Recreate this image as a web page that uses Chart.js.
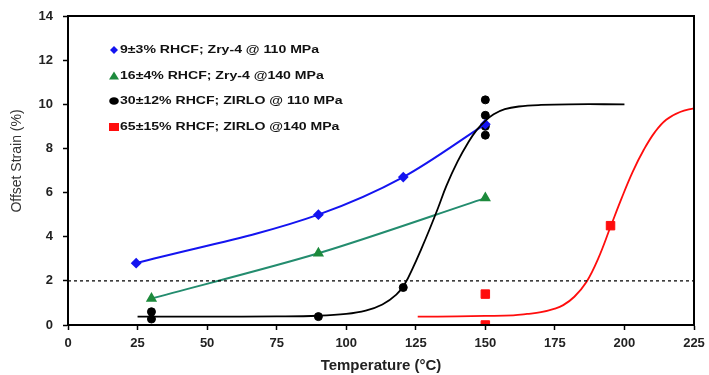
<!DOCTYPE html>
<html><head><meta charset="utf-8">
<script src="https://cdn.jsdelivr.net/npm/chart.js@4/dist/chart.umd.min.js"></script>
<style>html,body{margin:0;padding:0;background:#fff}#wrap{width:709px;height:375px;position:relative}</style>
</head><body><div id="wrap"><canvas id="c" width="709" height="375"></canvas></div>
<script>
// ---- data ----
const seriesNames = [
  "9\u00b13% RHCF; Zry-4 @ 110 MPa",
  "16\u00b14% RHCF; Zry-4 @140 MPa",
  "30\u00b112% RHCF; ZIRLO @ 110 MPa",
  "65\u00b115% RHCF; ZIRLO @140 MPa"
];
const yTitle = "Offset Strain (%)";
const xTitle = "Temperature (\u00b0C)";
const blueX = [24.5, 90, 120.5, 150];
const blueY = [2.8, 5.0, 6.7, 9.1];
const greenX = [30, 90, 150];
const greenY = [1.2, 3.25, 5.75];
const blackX = [30, 30, 90, 120.5, 150, 150, 150, 150];
const blackY = [0.6, 0.27, 0.38, 1.7, 10.2, 9.5, 9.0, 8.6];
const redX = [150, 150, 195];
const redY = [1.4, 0.0, 4.5];
// fitted curves
const blackFitX = [25, 50, 75, 90, 100, 107, 113, 118, 121, 124, 127, 130, 133, 136, 140, 144, 147, 150, 153, 157, 162, 170, 180, 200];
const blackFitY = [0.38, 0.38, 0.39, 0.42, 0.5, 0.65, 0.93, 1.38, 1.85, 2.6, 3.45, 4.35, 5.3, 6.3, 7.4, 8.3, 8.85, 9.25, 9.55, 9.78, 9.9, 9.97, 10.0, 10.0];
const redFitX = [125.7, 140, 150, 160, 165, 170, 175, 178, 182, 186.4, 190.6, 195, 199, 203, 207, 211, 215, 220, 225];
const redFitY = [0.38, 0.39, 0.41, 0.44, 0.5, 0.58, 0.74, 0.9, 1.28, 1.96, 3.02, 4.45, 5.75, 6.95, 7.95, 8.75, 9.3, 9.65, 9.82];
const limitX = [0, 225];
const limitY = 2;
const xTicks = [0, 25, 50, 75, 100, 125, 150, 175, 200, 225];
const yTicks = [0, 2, 4, 6, 8, 10, 12, 14];

const pts = (xs, ys) => xs.map((x, i) => ({x, y: Array.isArray(ys) ? ys[i] : ys}));

const BLUE = '#1414f0', GREEN = '#1d8a3c', TEAL = '#238c6e', RED = '#ff0d0d', BLACK = '#000';
const FONT = '"Liberation Sans", Arial, sans-serif';

const legendPlugin = {
  id: 'legendInside',
  afterDraw(chart) {
    const ctx = chart.ctx;
    const rows = [50, 76, 101, 127];
    const mx = 114, tx = 120, stretch = 1.28;
    ctx.save();
    ctx.font = 'bold 11px ' + FONT;
    ctx.textBaseline = 'middle';
    ctx.fillStyle = '#111';
    rows.forEach((y, i) => {
      ctx.save();
      ctx.translate(tx, y);
      ctx.scale(stretch, 1);
      ctx.fillText(seriesNames[i], 0, 0);
      ctx.restore();
    });
    ctx.fillStyle = BLUE; ctx.beginPath();
    ctx.moveTo(mx, rows[0] - 4); ctx.lineTo(mx + 4, rows[0]); ctx.lineTo(mx, rows[0] + 4); ctx.lineTo(mx - 4, rows[0]); ctx.closePath(); ctx.fill();
    ctx.fillStyle = GREEN; ctx.beginPath();
    ctx.moveTo(mx, rows[1] - 4.5); ctx.lineTo(mx + 5, rows[1] + 3.5); ctx.lineTo(mx - 5, rows[1] + 3.5); ctx.closePath(); ctx.fill();
    ctx.fillStyle = BLACK; ctx.beginPath();
    ctx.ellipse(mx, rows[2], 4.8, 3.8, 0, 0, Math.PI * 2); ctx.fill();
    ctx.fillStyle = RED; ctx.fillRect(mx - 5, rows[3] - 4, 10, 8);
    // rotated y-axis title
    ctx.save();
    ctx.translate(17, 161);
    ctx.rotate(-Math.PI / 2);
    ctx.font = '14px ' + FONT;
    ctx.fillStyle = '#333';
    ctx.textAlign = 'center';
    ctx.fillText(yTitle, 0, 0);
    ctx.restore();
    ctx.restore();
  }
};
const framePlugin = {
  id: 'frame',
  afterDatasetsDraw(chart) {
    const a = chart.chartArea, ctx = chart.ctx;
    ctx.save();
    ctx.strokeStyle = '#000'; ctx.lineWidth = 2;
    ctx.strokeRect(a.left, a.top, a.right - a.left, a.bottom - a.top);
    ctx.restore();
  }
};

new Chart(document.getElementById('c'), {
  type: 'scatter',
  data: {
    datasets: [
      { label: 'limit', data: pts(limitX, limitY), showLine: true, borderColor: '#000', borderWidth: 1.2, borderDash: [3, 3], pointRadius: 0 },
      { label: 'blackFit', data: pts(blackFitX, blackFitY), showLine: true, borderColor: '#000', borderWidth: 1.8, tension: 0.4, pointRadius: 0 },
      { label: 'redFit', data: pts(redFitX, redFitY), showLine: true, borderColor: RED, borderWidth: 1.8, tension: 0.4, pointRadius: 0 },
      { label: seriesNames[1], data: pts(greenX, greenY), showLine: true, borderColor: TEAL, borderWidth: 2, tension: 0.3, pointStyle: 'triangle', pointRadius: 4.5, pointBackgroundColor: GREEN, pointBorderColor: GREEN },
      { label: seriesNames[0], data: pts(blueX, blueY), showLine: true, borderColor: BLUE, borderWidth: 2, cubicInterpolationMode: 'monotone', pointStyle: 'rectRot', pointRadius: 4, pointBackgroundColor: BLUE, pointBorderColor: BLUE },
      { label: seriesNames[2], data: pts(blackX, blackY), showLine: false, pointStyle: 'circle', pointRadius: 4, pointBackgroundColor: BLACK, pointBorderColor: BLACK },
      { label: seriesNames[3], data: pts(redX, redY), showLine: false, pointStyle: 'rect', pointRadius: 6, pointBackgroundColor: RED, pointBorderColor: RED }
    ]
  },
  options: {
    responsive: false,
    animation: false,
    devicePixelRatio: 1,
    layout: { padding: { top: 16, right: 15, left: 0, bottom: 0 } },
    plugins: { legend: { display: false }, tooltip: { enabled: false } },
    scales: {
      x: {
        type: 'linear', min: 0, max: 225,
        afterBuildTicks(s) { s.ticks = xTicks.map(v => ({value: v})); },
        afterFit(s) { s.height = 50; s.paddingRight = 0; s.paddingLeft = 0; },
        grid: { drawOnChartArea: false, drawTicks: true, tickLength: 5, tickColor: '#000', tickWidth: 1.5 },
        border: { color: '#000', width: 2 },
        ticks: { color: '#222', font: { family: FONT, size: 13, weight: 'bold' }, padding: 6, maxRotation: 0 },
        title: { display: true, text: xTitle, color: '#222', font: { family: FONT, size: 15, weight: 'bold' }, padding: { top: 3, bottom: 0 } }
      },
      y: {
        type: 'linear', min: 0, max: 14,
        afterBuildTicks(s) { s.ticks = yTicks.map(v => ({value: v})); },
        afterFit(s) { s.width = 68; s.paddingTop = 0; s.paddingBottom = 0; },
        grid: { drawOnChartArea: false, drawTicks: true, tickLength: 5, tickColor: '#000', tickWidth: 1.5 },
        border: { color: '#000', width: 2 },
        ticks: { color: '#222', font: { family: FONT, size: 13, weight: 'bold' }, padding: 10 },
        title: { display: false }
      }
    }
  },
  plugins: [framePlugin, legendPlugin]
});
</script>
</body></html>
